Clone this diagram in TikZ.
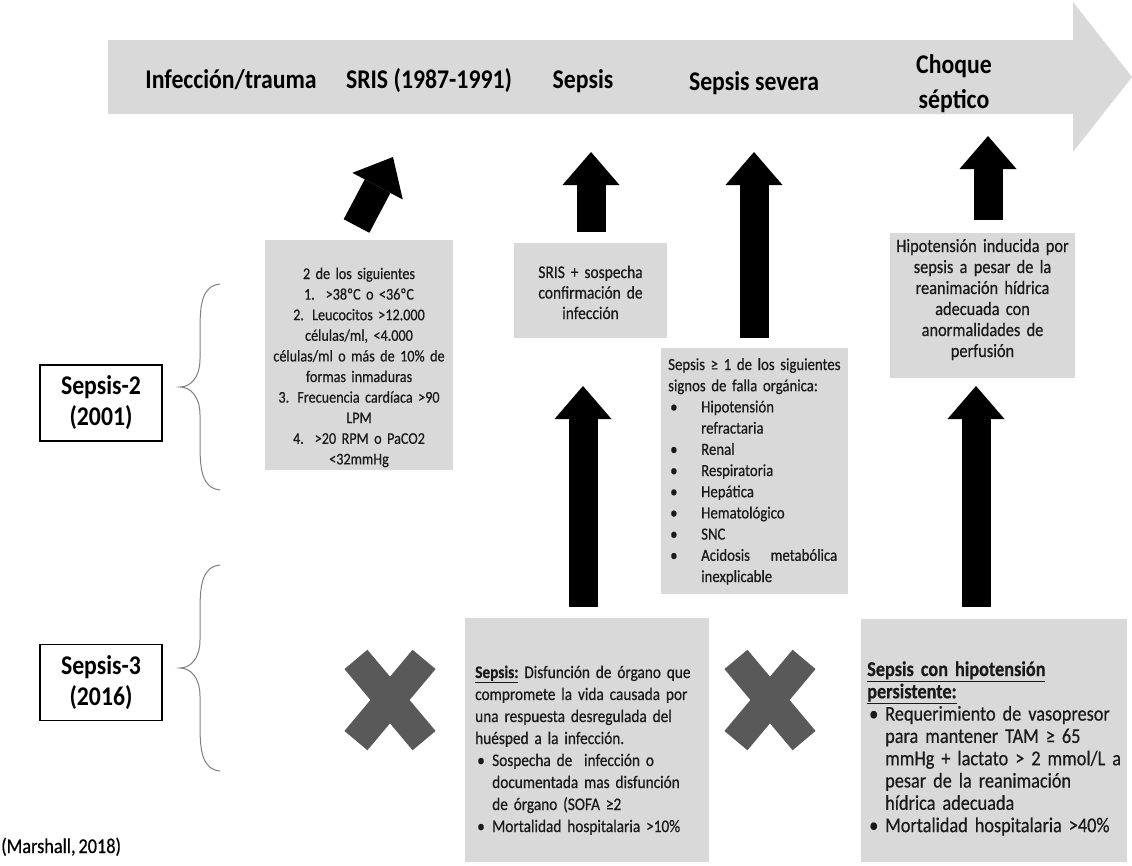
\documentclass[tikz,border=0pt]{standalone}
\usepackage{fontspec}
\setmainfont[FakeStretch=0.87,WordSpace=0.7,FakeBold=0.5]{Carlito}
\newfontfamily\labelfont[FakeStretch=0.88]{Carlito}
\usetikzlibrary{arrows.meta}

\definecolor{panelgray}{HTML}{D9D9D9}
\definecolor{crossgray}{HTML}{595959}
\definecolor{bracegray}{HTML}{808080}
\definecolor{inkgray}{HTML}{1A1A1A}

\hyphenpenalty=10000
\exhyphenpenalty=10000

% bullet followed by indent of a given width, and the matching hanging indent
\newcommand\bulitem[1]{\makebox[#1][l]{\hspace{2pt}•}}
\newcommand\bulhang[1]{\hspace*{#1}}

\begin{document}
\begin{tikzpicture}[x=1pt,y=-1pt,
  panel/.style={fill=panelgray, inner sep=0pt, outer sep=0pt},
  stage/.style={font=\labelfont\bfseries\fontsize{27}{35}\selectfont, inner sep=0pt, anchor=base},
  era/.style={draw=black, line width=1.3pt, inner sep=0pt, align=center,
    minimum width=122pt, minimum height=76pt,
    font=\labelfont\bfseries\fontsize{27}{31}\selectfont},
  bodytext/.style={inner sep=0pt, text=inkgray},
  blockarrow/.style={draw=black, line width=29pt, line cap=butt,
    -{Triangle[width=57pt,length=33pt,line width=0pt]}},
  pics/crossmark/.style={code={
    \fill[crossgray, rotate=50] (-53,-15) rectangle (53,15);
    \fill[crossgray, rotate=-50] (-53,-15) rectangle (53,15);}},
  pics/leftbrace/.style={code={
    \draw[bracegray, line width=1pt]
      (40,-103) .. controls (22,-101) and (20,-83) .. (20,-57) -- (20,-28)
      .. controls (20,-9) and (10,0) .. (0,0)
      .. controls (10,0) and (20,9) .. (20,28) -- (20,57)
      .. controls (20,83) and (22,101) .. (40,103);}}
]

% canvas
\fill[white] (0,0) rectangle (1132,865);
\useasboundingbox (0,0) rectangle (1132,865);

% timeline arrow
\fill[panelgray] (108,40) -- (1073,40) -- (1073,2) -- (1132,77) -- (1073,152)
  -- (1073,114) -- (108,114) -- cycle;

\node[stage] (infeccion) at (231,88) {Infección/trauma};
\node[stage] (sris) at (429,88) {SRIS (1987-1991)};
\node[stage] (sepsis) at (583,88) {Sepsis};
\node[stage] (severa) at (754,90) {Sepsis severa};
\node[stage, anchor=center, align=center] (choque) at (954,84) {Choque\\séptico};

% Sepsis-2 panels
\node[panel, minimum width=188pt, minimum height=230pt] (srisbox) at (359,355) {};
\node[bodytext, font=\fontsize{16.3}{20.6}\selectfont, text width=188pt, align=center, anchor=base]
  (sristxt) at (359,279) {2 de los siguientes\\
  1.\ \ >38ºC o <36ºC\\
  2. Leucocitos >12.000\\
  células/ml, <4.000\\
  células/ml o más de 10\% de\\
  formas inmaduras\\
  3. Frecuencia cardíaca >90\\
  LPM\\
  4.\ \ >20 RPM o PaCO2\\
  <32mmHg};

\node[panel, minimum width=153pt, minimum height=95pt] (sepbox) at (590.5,290.5) {};
\node[bodytext, font=\fontsize{17.8}{20.5}\selectfont, text width=153pt, align=center, anchor=base]
  (septxt) at (590.5,278) {SRIS + sospecha\\ confirmación de\\ infección};

\node[panel, minimum width=187pt, minimum height=246pt] (sevbox) at (754.5,471) {};
\node[bodytext, font=\fontsize{17}{21.2}\selectfont, text width=178pt, align=left, anchor=base west]
  (sevtxt) at (668,370) {Sepsis ≥ 1 de los siguientes\\
  signos de falla orgánica:\\
  \bulitem{33pt}Hipotensión\\
  \bulhang{33pt}refractaria\\
  \bulitem{33pt}Renal\\
  \bulitem{33pt}Respiratoria\\
  \bulitem{33pt}Hepática\\
  \bulitem{33pt}Hematológico\\
  \bulitem{33pt}SNC\\
  \bulitem{33pt}\hbox to 136pt{Acidosis\hfill metabólica}\\
  \bulhang{33pt}inexplicable};

\node[panel, minimum width=185pt, minimum height=145pt] (chobox) at (982.5,305.5) {};
\node[bodytext, font=\fontsize{18.8}{21}\selectfont, text width=185pt, align=center, anchor=base]
  (chotxt) at (982.5,252) {Hipotensión inducida por\\
  sepsis a pesar de la\\
  reanimación hídrica\\
  adecuada con\\
  anormalidades de\\
  perfusión};

% Sepsis-3 panels
\node[panel, minimum width=244pt, minimum height=244pt] (s3box) at (587,740) {};
\node[bodytext, font=\fontsize{17.6}{22}\selectfont, text width=234pt, align=left, anchor=base west]
  (s3txt) at (475,678) {\underline{\textbf{Sepsis:}} Disfunción de órgano que\\
  compromete la vida causada por\\
  una respuesta desregulada del\\
  huésped a la infección.\\
  \bulitem{17pt}Sospecha de\ \ infección o\\
  \bulhang{17pt}documentada mas disfunción\\
  \bulhang{17pt}de órgano (SOFA ≥2\\
  \bulitem{17pt}Mortalidad hospitalaria >10\%};

\node[panel, minimum width=266pt, minimum height=243pt] (s3chobox) at (994,740.5) {};
\node[bodytext, font=\fontsize{21}{22.3}\selectfont, text width=264pt, align=left, anchor=base west]
  (s3chotxt) at (867,676) {\underline{\textbf{Sepsis con hipotensión}}\\
  \underline{\textbf{persistente:}}\\
  \bulitem{18pt}Requerimiento de vasopresor\\
  \bulhang{18pt}para mantener TAM ≥ 65\\
  \bulhang{18pt}mmHg + lactato > 2 mmol/L a\\
  \bulhang{18pt}pesar de la reanimación\\
  \bulhang{18pt}hídrica adecuada\\
  \bulitem{18pt}Mortalidad hospitalaria >40\%};

% era labels and braces
\node[era] (sepsis2) at (101,403) {Sepsis-2\\(2001)};
\node[era] (sepsis3) at (101,682.5) {Sepsis-3\\(2016)};
\pic at (180,387) {leftbrace};
\pic at (180,668) {leftbrace};

% criteria dropped in Sepsis-3
\pic at (390,700) {crossmark};
\pic at (770,700) {crossmark};

% block arrows
\coordinate (srisfoot) at (356.5,226);
\coordinate (srishead) at (393,157);
\coordinate (sepfoot) at (591,232);
\coordinate (sephead) at (591,152);
\coordinate (sevfoot) at (754,338);
\coordinate (sevhead) at (754,152);
\coordinate (chofoot) at (988,220);
\coordinate (chohead) at (988,136);
\coordinate (s3foot) at (583,607);
\coordinate (s3head) at (583,386);
\coordinate (s3chofoot) at (976,607);
\coordinate (s3chohead) at (976,386);
\draw[blockarrow] (srisfoot) -- (srishead);
\draw[blockarrow] (sepfoot) -- (sephead);
\draw[blockarrow] (sevfoot) -- (sevhead);
\draw[blockarrow] (chofoot) -- (chohead);
\draw[blockarrow] (s3foot) -- (s3head);
\draw[blockarrow] (s3chofoot) -- (s3chohead);

% source
\node[inner sep=0pt, anchor=base west, font=\fontsize{21}{23}\selectfont] (source) at (1,853) {(Marshall, 2018)};

\end{tikzpicture}
\end{document}
